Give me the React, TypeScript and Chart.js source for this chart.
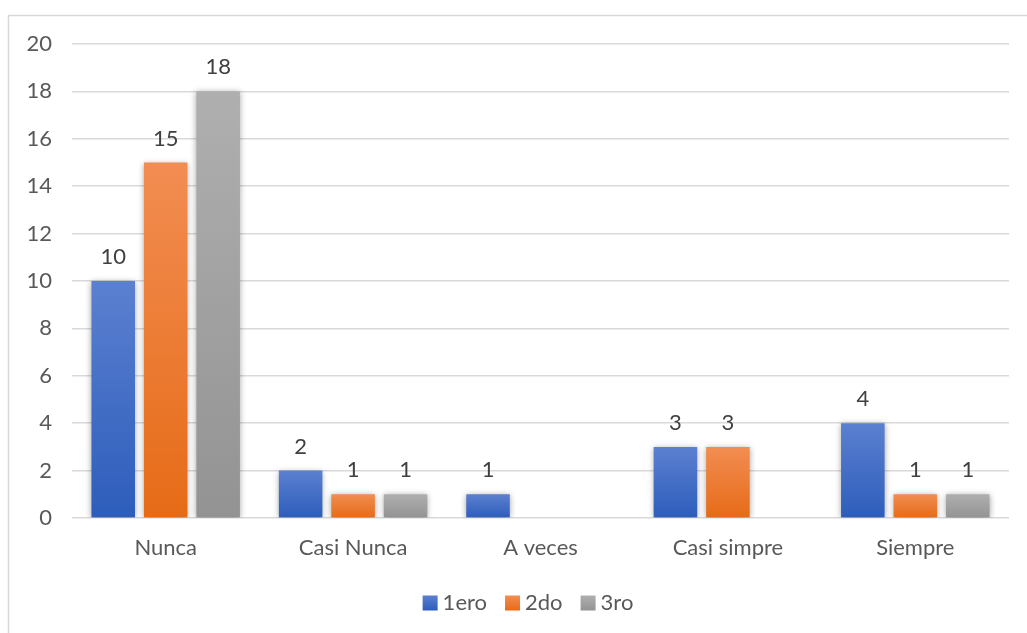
import React, { useEffect, useRef } from "react";
import { Chart, registerables } from "chart.js";

Chart.register(...registerables);

const categories = ["Nunca", "Casi Nunca", "A veces", "Casi simpre", "Siempre"];
const seriesNames = ["1ero", "2do", "3ro"];
const serie1ero = [10, 2, 1, 3, 4];
const serie2do = [15, 1, 0, 3, 1];
const serie3ro = [18, 1, 0, 0, 1];
const yTicks = [0, 2, 4, 6, 8, 10, 12, 14, 16, 18, 20];

const gradients = [
  ["#5b80d0", "#2d5dbb"],
  ["#f28d52", "#e66b17"],
  ["#afafaf", "#939393"],
];
const solid = ["#4472c4", "#ed7d31", "#a5a5a5"];

const FONT = "Lato, 'Open Sans', sans-serif";
const FS = 22;

function makeBg(idx: number) {
  return (ctx: any) => {
    if (ctx.type !== "data") return solid[idx];
    const chart = ctx.chart;
    const y = chart.scales?.y;
    if (!y || !chart.chartArea) return solid[idx];
    const v = ctx.parsed?.y ?? 0;
    const top = y.getPixelForValue(v);
    const bot = y.getPixelForValue(0);
    if (!isFinite(top) || !isFinite(bot) || top === bot) return solid[idx];
    const g = chart.ctx.createLinearGradient(0, top, 0, bot);
    g.addColorStop(0, gradients[idx][0]);
    g.addColorStop(1, gradients[idx][1]);
    return g;
  };
}

const frame = {
  id: "frame",
  beforeDraw(chart: any) {
    const c = chart.ctx;
    c.save();
    c.strokeStyle = "#d9d9d9";
    c.lineWidth = 1.5;
    c.beginPath();
    c.moveTo(8.5, chart.height);
    c.lineTo(8.5, 15.5);
    c.lineTo(chart.width, 15.5);
    c.stroke();
    c.restore();
  },
};

const shadow = {
  id: "barShadow",
  beforeDatasetDraw(chart: any) {
    const c = chart.ctx;
    c.save();
    c.shadowColor = "rgba(0,0,0,0.35)";
    c.shadowBlur = 6;
    c.shadowOffsetX = 0;
    c.shadowOffsetY = 1;
  },
  afterDatasetDraw(chart: any) {
    chart.ctx.restore();
  },
};

const valueLabels = {
  id: "valueLabels",
  afterDatasetsDraw(chart: any) {
    const c = chart.ctx;
    c.save();
    c.font = `${FS}px ${FONT}`;
    c.fillStyle = "#404040";
    c.textAlign = "center";
    c.textBaseline = "middle";
    chart.data.datasets.forEach((ds: any, di: number) => {
      const meta = chart.getDatasetMeta(di);
      meta.data.forEach((el: any, i: number) => {
        const v = ds.data[i];
        if (!v) return;
        c.fillText(String(v), el.x, el.y - 24);
      });
    });
    c.restore();
  },
};

const customLegend = {
  id: "customLegend",
  afterDraw(chart: any) {
    const c = chart.ctx;
    c.save();
    c.font = `${FS}px ${FONT}`;
    c.textBaseline = "middle";
    c.textAlign = "left";
    const box = 15;
    const gap = 5;
    const itemGap = 18;
    const widths = seriesNames.map((n) => box + gap + c.measureText(n).width);
    const total = widths.reduce((a, b) => a + b, 0) + itemGap * (widths.length - 1);
    let x = 528 - total / 2;
    const cy = 603;
    seriesNames.forEach((n, i) => {
      const g = c.createLinearGradient(0, cy - box / 2, 0, cy + box / 2);
      g.addColorStop(0, gradients[i][0]);
      g.addColorStop(1, gradients[i][1]);
      c.fillStyle = g;
      c.fillRect(x, cy - box / 2, box, box);
      c.fillStyle = "#595959";
      c.fillText(n, x + box + gap, cy);
      x += widths[i] + itemGap;
    });
    c.restore();
  },
};

export default function App() {
  const ref = useRef<HTMLCanvasElement | null>(null);
  useEffect(() => {
    if (!ref.current) return;
    const all = [serie1ero, serie2do, serie3ro];
    const chart = new Chart(ref.current, {
      type: "bar",
      data: {
        labels: categories,
        datasets: all.map((d, i) => ({
          label: seriesNames[i],
          data: d,
          backgroundColor: makeBg(i),
          borderWidth: 0,
          barPercentage: 0.83,
          categoryPercentage: 0.84,
        })),
      },
      options: {
        animation: false,
        responsive: true,
        maintainAspectRatio: false,
        layout: { padding: { left: 8, right: 18, top: 44, bottom: 50.5 } },
        plugins: {
          tooltip: { enabled: false },
          legend: { display: false },
        },
        scales: {
          x: {
            grid: { display: false, drawTicks: false },
            border: { display: false },
            ticks: {
              color: "#595959",
              padding: 17,
              font: { family: FONT, size: FS },
            },
            afterFit(s: any) {
              s.height = 64.5;
            },
          },
          y: {
            min: 0,
            max: 20,
            afterBuildTicks(s: any) {
              s.ticks = yTicks.map((v) => ({ value: v }));
            },
            grid: { color: "#d9d9d9", lineWidth: 1.5, drawTicks: false },
            border: { display: false },
            ticks: {
              color: "#595959",
              padding: 20,
              font: { family: FONT, size: FS },
            },
            afterFit(s: any) {
              s.width = 64;
            },
          },
        },
      },
      plugins: [frame, shadow, valueLabels, customLegend],
    });
    return () => chart.destroy();
  }, []);
  return (
    <div style={{ position: "fixed", left: 0, top: 0, width: 1027, height: 633, background: "#fff" }}>
      <canvas ref={ref} />
    </div>
  );
}
